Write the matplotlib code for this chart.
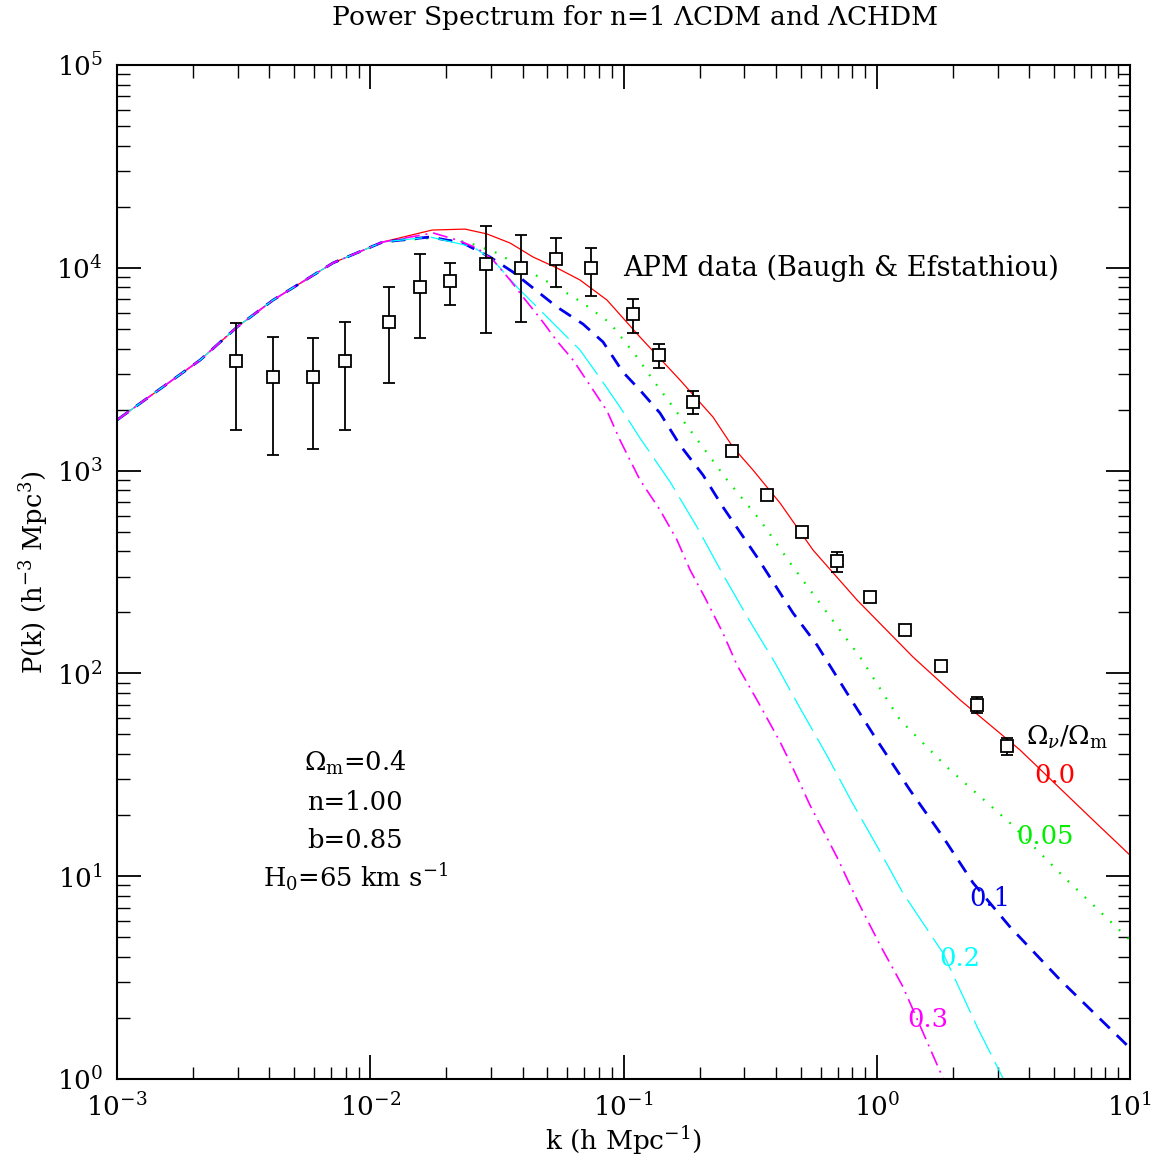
import numpy as np
import matplotlib
matplotlib.use('Agg')
import matplotlib.pyplot as plt

plt.rcParams['font.family'] = 'DejaVu Serif'
plt.rcParams['mathtext.fontset'] = 'dejavuserif'

# --- model curves, Omega_nu/Omega_m = 0.0, 0.05, 0.1, 0.2, 0.3 ---
k_low = [0.001, 0.00213, 0.00298, 0.00413, 0.00713, 0.0112]
P_low = [1776, 3510, 5105, 6930, 10570, 13400]

k_00 = k_low + [0.01754, 0.02366, 0.0289, 0.03565, 0.04395, 0.0546, 0.0673, 0.0861,
                0.1161, 0.167, 0.2256, 0.2704, 0.3245, 0.415, 0.560, 0.836, 1.390,
                2.133, 3.68, 7.15, 10.0]
P_00 = P_low + [15350, 15520, 14690, 13250, 11300, 9980, 8710, 6930,
                4560, 2800, 1837, 1306, 1007, 692, 406, 230, 120.5,
                74.0, 41.9, 18.9, 12.7]

k_05 = k_low + [0.01722, 0.0241, 0.03166, 0.04276, 0.0546, 0.0692, 0.0885, 0.1130,
                0.1307, 0.1832, 0.2564, 0.346, 0.467, 0.637, 0.859, 1.236, 1.893,
                3.36, 5.64, 10.0]
P_05 = P_low + [14030, 13400, 11830, 9530, 8040, 6700, 5345, 3630,
                2800, 1585, 900, 570, 335, 198.6, 120.5, 58.9, 34.5,
                18.3, 9.57, 4.84]

k_10 = k_low + [0.01722, 0.02322, 0.0297, 0.0366, 0.0546, 0.0692, 0.0830, 0.0995,
                0.1161, 0.1393, 0.167, 0.206, 0.247, 0.3365, 0.467, 0.581, 0.763,
                1.0, 1.352, 1.827, 2.40, 3.36, 5.30, 10.0]
P_10 = P_low + [14190, 13250, 11300, 9530, 6410, 5280, 4310, 3060,
                2495, 1923, 1337, 951, 661, 375, 198.6, 138, 80.0,
                47.0, 26.6, 15.6, 9.27, 5.62, 3.08, 1.42]

k_20 = k_low + [0.01722, 0.02547, 0.03055, 0.0383, 0.0490, 0.0673, 0.0807, 0.0968,
                0.1161, 0.1528, 0.1951, 0.245, 0.310, 0.397, 0.4976, 0.637, 0.798,
                1.011, 1.269, 1.826, 2.49, 3.15, 3.36]
P_20 = P_low + [14190, 12680, 10910, 7950, 5850, 3935, 2865, 2060,
                1449, 879, 527, 313, 187.5, 112.5, 67.5, 39.2, 23.2,
                13.8, 8.26, 4.18, 1.81, 1.01, 0.807]

k_30 = k_low + [0.0177, 0.02201, 0.02639, 0.03055, 0.03565, 0.0401, 0.0468, 0.0546,
                0.0632, 0.0759, 0.0861, 0.0968, 0.1161, 0.1393, 0.1626, 0.1832, 0.210,
                0.247, 0.2807, 0.3365, 0.415, 0.467, 0.545, 0.697, 0.836, 1.030,
                1.269, 1.826, 1.945]
P_30 = P_low + [14860, 13710, 12520, 10910, 8710, 7180, 5650, 4355,
                3510, 2495, 1968, 1416, 900, 640, 455, 323.6, 235.5,
                158, 109.9, 74.0, 46.0, 34.0, 22.4, 12.4, 7.64, 4.58,
                2.85, 1.01, 0.817]

# --- APM data (Baugh & Efstathiou) ---
apm_k = [0.00295, 0.00413, 0.00594, 0.00794, 0.0119, 0.0157, 0.0207, 0.0286,
         0.0394, 0.054, 0.0745, 0.109, 0.138, 0.188, 0.268, 0.369, 0.507,
         0.697, 0.94, 1.29, 1.79, 2.49, 3.27]
apm_P = [3470, 2900, 2900, 3470, 5400, 8040, 8600, 10440,
         10000, 11040, 10000, 5920, 3715, 2180, 1250, 759, 498,
         358, 238, 164, 109, 69.8, 43.9]
apm_hi = [5340, 4560, 4500, 5400, 8040, 11700, 10560, 16070,
          14500, 14030, 12520, 7020, 4210, 2470, 1310, 795, 522,
          397, 246, 169, 112, 76.5, 48.0]
apm_lo = [1585, 1194, 1278, 1585, 2700, 4500, 6560, 4770,
          5400, 8040, 7260, 4770, 3205, 1900, 1190, 723, 474,
          316, 230, 159, 106, 63.8, 39.6]

fig = plt.figure(figsize=(11.58, 11.57), dpi=100)
ax = fig.add_axes([117/1158, 1-1079/1157, 1013/1158, 1014/1157])

ax.plot(k_00, P_00, color='#ff0000', lw=0.9)
ax.plot(k_05, P_05, color='#00ee00', lw=1.6, dashes=(0.8, 4.5))
ax.plot(k_10, P_10, color='#0000ee', lw=2.0, dashes=(5, 3.5))
ax.plot(k_20, P_20, color='#00ffff', lw=0.9, dashes=(30, 7))
ax.plot(k_30, P_30, color='#ff00ff', lw=1.2, dashes=(9, 3.5, 1.2, 3.5))

apm_P_a = np.array(apm_P)
yerr = [apm_P_a - np.array(apm_lo), np.array(apm_hi) - apm_P_a]
ax.errorbar(apm_k, apm_P, yerr=yerr, fmt='s', mfc='white', mec='black', ms=9,
            mew=1.3, ecolor='black', elinewidth=1.3, capsize=4.5, capthick=1.3)

ax.set_xscale('log')
ax.set_yscale('log')
ax.set_xlim(1e-3, 1e1)
ax.set_ylim(1e0, 1e5)

ax.tick_params(which='both', direction='in', top=True, right=True, labelsize=19, pad=10)
ax.tick_params(which='major', length=17, width=1.3)
ax.tick_params(which='minor', length=9, width=1.0)
for s in ax.spines.values():
    s.set_linewidth(1.5)

ax.set_xlabel(r'k (h Mpc$^{-1}$)', fontsize=19, labelpad=2)
ax.set_ylabel(r'P(k) (h$^{-3}$ Mpc$^{3}$)', fontsize=18.5, labelpad=4)
fig.text(635/1158, 1-17/1157, r'Power Spectrum for n=1 $\Lambda$CDM and $\Lambda$CHDM',
         ha='center', va='center', fontsize=19)

ax.text(0.4995, 0.7998, 'APM data (Baugh & Efstathiou)', transform=ax.transAxes,
        ha='left', va='center', fontsize=19.5)

params = [r'$\Omega_{\rm m}$=0.4', 'n=1.00', 'b=0.85', r'H$_0$=65 km s$^{-1}$']
params_y = [0.3116, 0.2722, 0.2357, 0.1992]
for t, yy in zip(params, params_y):
    ax.text(0.235, yy, t, transform=ax.transAxes, ha='center', va='center', fontsize=18.5)

ax.text(0.938, 0.337, r'$\Omega_\nu/\Omega_{\rm m}$', transform=ax.transAxes,
        ha='center', va='center', fontsize=18.5)
frac_labels = ['0.0', '0.05', '0.1', '0.2', '0.3']
frac_colors = ['#ff0000', '#00ee00', '#0000ee', '#00ffff', '#ff00ff']
frac_x = [0.926, 0.916, 0.862, 0.832, 0.8006]
frac_y = [0.2998, 0.2387, 0.1785, 0.1193, 0.0582]
for t, c, xx, yy in zip(frac_labels, frac_colors, frac_x, frac_y):
    ax.text(xx, yy, t, color=c, transform=ax.transAxes, ha='center', va='center', fontsize=18.5)

fig.savefig('out.png', dpi=100)
